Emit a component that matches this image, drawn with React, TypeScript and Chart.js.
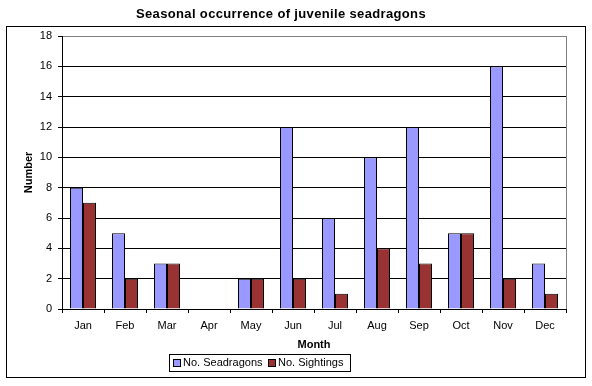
import React, { useEffect, useRef } from "react";
import { Chart, registerables } from "chart.js";

Chart.register(...registerables);

const months = ["Jan", "Feb", "Mar", "Apr", "May", "Jun", "Jul", "Aug", "Sep", "Oct", "Nov", "Dec"];
const seadragons = [8, 5, 3, 0, 2, 12, 6, 10, 12, 5, 16, 3];
const sightings = [7, 2, 3, 0, 2, 2, 1, 4, 3, 5, 2, 1];
const seriesNames = ["No. Seadragons", "No. Sightings"];
const seriesColors = ["#9999FF", "#993333"];
const titleText = "Seasonal occurrence of juvenile seadragons";
const xTitle = "Month";
const yTitle = "Number";

const FONT = "Arial, 'Liberation Sans', sans-serif";

const decorPlugin = {
  id: "decor",
  beforeDraw(chart: any) {
    const ctx = chart.ctx;
    ctx.save();
    ctx.fillStyle = "#fff";
    ctx.fillRect(0, 0, chart.width, chart.height);
    ctx.restore();
  },
  afterDraw(chart: any) {
    const ctx = chart.ctx;
    const a = chart.chartArea;
    ctx.save();
    // outer frame
    ctx.strokeStyle = "#000";
    ctx.lineWidth = 1;
    ctx.strokeRect(6.5, 26.5, 579, 351);
    // plot right border (gray)
    ctx.strokeStyle = "#808080";
    ctx.beginPath();
    ctx.moveTo(Math.round(a.right) + 0.5, a.top);
    ctx.lineTo(Math.round(a.right) + 0.5, a.bottom);
    ctx.stroke();
    // title
    ctx.fillStyle = "#000";
    ctx.font = `bold 13px ${FONT}`;
    try {
      (ctx as any).letterSpacing = "0.35px";
    } catch (e) {}
    ctx.textAlign = "center";
    ctx.textBaseline = "alphabetic";
    ctx.fillText(titleText, 281, 18);
    try {
      (ctx as any).letterSpacing = "0px";
    } catch (e) {}
    // x title
    ctx.font = `bold 11px ${FONT}`;
    ctx.textBaseline = "middle";
    ctx.fillText(xTitle, 314, 345);
    // y title
    ctx.save();
    ctx.translate(29, (a.top + a.bottom) / 2);
    ctx.rotate(-Math.PI / 2);
    ctx.fillText(yTitle, 0, 0);
    ctx.restore();
    // legend
    ctx.strokeStyle = "#000";
    ctx.strokeRect(169.5, 354.5, 181, 17);
    ctx.font = `11px ${FONT}`;
    ctx.textAlign = "left";
    ctx.textBaseline = "middle";
    const items = [
      { x: 173, tx: 183 },
      { x: 268, tx: 278 },
    ];
    items.forEach((it, i) => {
      ctx.fillStyle = seriesColors[i];
      ctx.fillRect(it.x, 359, 7, 7);
      ctx.strokeStyle = "#000";
      ctx.strokeRect(it.x + 0.5, 359.5, 7, 7);
      ctx.fillStyle = "#000";
      ctx.fillText(seriesNames[i], it.tx, 363);
    });
    ctx.restore();
  },
};

export default function App() {
  const ref = useRef<HTMLCanvasElement>(null);
  useEffect(() => {
    if (!ref.current) return;
    const chart = new Chart(ref.current, {
      type: "bar",
      data: {
        labels: months,
        datasets: [
          {
            label: seriesNames[0],
            data: seadragons,
            backgroundColor: seriesColors[0],
            borderColor: "#000",
            borderWidth: 1,
            barPercentage: 1,
            categoryPercentage: 26 / 42,
          },
          {
            label: seriesNames[1],
            data: sightings,
            backgroundColor: seriesColors[1],
            borderColor: "#000",
            borderWidth: 1,
            barPercentage: 1,
            categoryPercentage: 26 / 42,
          },
        ],
      },
      options: {
        animation: false,
        responsive: false,
        maintainAspectRatio: false,
        devicePixelRatio: 1,
        layout: { padding: { left: 22, top: 36, right: 26, bottom: 47 } },
        plugins: {
          legend: { display: false },
          title: { display: false },
          tooltip: { enabled: false },
        },
        scales: {
          x: {
            afterFit: (s: any) => {
              s.height = 30;
            },
            grid: {
              offset: true,
              drawOnChartArea: false,
              drawTicks: true,
              tickLength: 4,
              color: "#000",
              tickColor: "#000",
            },
            border: { color: "#000", width: 1 },
            ticks: {
              color: "#000",
              font: { family: FONT, size: 11 },
              padding: 6,
              maxRotation: 0,
            },
          },
          y: {
            min: 0,
            max: 18,
            afterFit: (s: any) => {
              s.width = 40;
            },
            grid: {
              color: (c: any) => (c.tick && c.tick.value === 18 ? "#808080" : "#000"),
              tickColor: "#000",
              tickLength: 4,
              lineWidth: 1,
            },
            border: { color: "#000", width: 1 },
            ticks: {
              stepSize: 2,
              color: "#000",
              font: { family: FONT, size: 11 },
              padding: 6,
            },
          },
        },
      },
      plugins: [decorPlugin],
    });
    return () => chart.destroy();
  }, []);
  return (
    <div style={{ position: "fixed", left: 0, top: 0, width: 592, height: 386, background: "#fff" }}>
      <canvas ref={ref} width={592} height={386} style={{ display: "block", width: 592, height: 386 }} />
    </div>
  );
}
